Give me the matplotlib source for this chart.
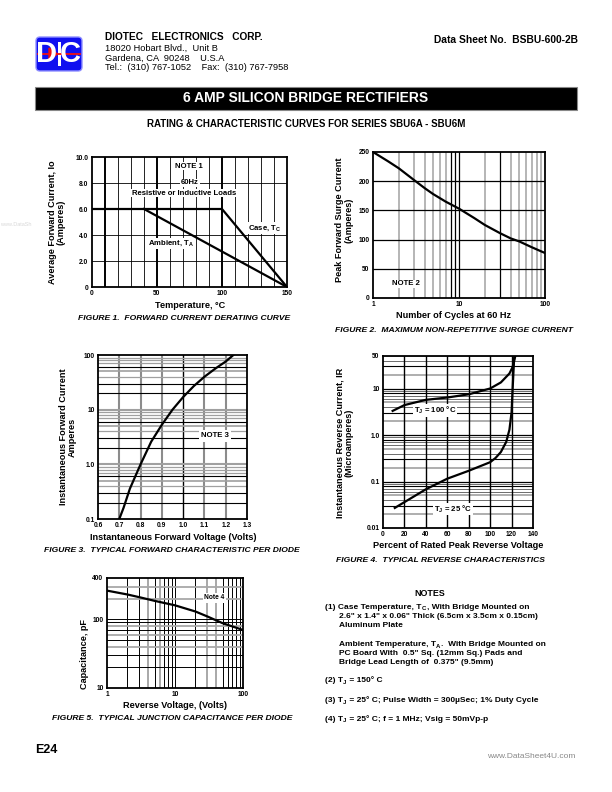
import numpy as np
import matplotlib
matplotlib.use('Agg')
import matplotlib.pyplot as plt
from matplotlib import font_manager as fm
from matplotlib.patches import FancyBboxPatch, Rectangle, Polygon
from matplotlib.ticker import NullLocator

names = {f.name for f in fm.fontManager.ttflist}
NARROW = 'Liberation Sans Narrow' if 'Liberation Sans Narrow' in names else 'Liberation Sans'
REG = 'Liberation Sans'
plt.rcParams['font.family'] = [NARROW, REG, 'DejaVu Sans']
plt.rcParams['mathtext.fontset'] = 'custom'
plt.rcParams['mathtext.rm'] = NARROW + ':bold'
plt.rcParams['mathtext.it'] = NARROW + ':bold'
plt.rcParams['mathtext.bf'] = NARROW + ':bold'

# ---------------- data ----------------
# Figure 1: derating
temp_case = [0, 100, 150]
io_case = [6.0, 6.0, 0.0]
temp_amb = [40, 150]
io_amb = [6.0, 0.0]
# Figure 2: surge current
cycles = [1, 1.5, 2, 3, 4, 5, 7, 10, 15, 20, 30, 40, 50, 70, 100]
surge = [250, 234, 222, 202, 188, 178, 165, 153, 137, 125, 111, 102, 97, 87, 77]
# Figure 3: forward characteristic
vf = [0.70, 0.72, 0.75, 0.80, 0.85, 0.90, 0.95, 1.00, 1.05, 1.10, 1.15, 1.20, 1.236]
i_f = [0.1, 0.16, 0.36, 1.0, 2.6, 5.3, 10, 17, 27, 40, 56, 76, 100]
# Figure 4: reverse characteristic
pct_100 = [9, 20, 40, 60, 80, 100, 110, 118, 121, 123.5]
ir_100 = [3.3, 4.4, 5.7, 6.4, 7.5, 10, 13.5, 21, 29, 50]
pct_25 = [11, 20, 40, 60, 80, 100, 105, 110, 115, 118, 120, 121, 122.5]
ir_25 = [0.027, 0.036, 0.068, 0.115, 0.17, 0.26, 0.32, 0.43, 0.71, 1.3, 3.1, 10, 50]
# Figure 5: junction capacitance
vr = [1, 2, 3, 5, 10, 20, 30, 50, 100]
cap = [262, 230, 210, 186, 160, 130, 110, 88, 70]

W, H = 612, 792
fig = plt.figure(figsize=(6.12, 7.92), dpi=100)
renderer = fig.canvas.get_renderer()


def px_axes(x0, y0, x1, y1):
    return fig.add_axes([x0 / W, 1 - y1 / H, (x1 - x0) / W, (y1 - y0) / H])


def ftext(x, y, s, **kw):
    kw.setdefault('va', 'center')
    return fig.text(x / W, 1 - y / H, s, **kw)


def rich(x, y, parts, fs):
    """Draw bold text pieces on a common baseline; parts = (text, is_subscript)."""
    cx = x
    for s, sub in parts:
        size = fs * 0.72 if sub else fs
        dy = 1.5 if sub else 0.0
        t = fig.text(cx / W, 1 - (y + dy) / H, s, fontsize=size, fontweight='bold',
                     va='baseline', ha='left')
        cx += t.get_window_extent(renderer).width + (0.6 if sub else 0.3)


def style_axes(ax, fs=4.8):
    for s in ax.spines.values():
        s.set_linewidth(1.3)
        s.set_zorder(5)
    ax.tick_params(length=0, labelsize=fs, pad=2.5)
    for lab in ax.get_xticklabels() + ax.get_yticklabels():
        lab.set_fontweight('bold')
        lab.set_family(REG)


LBL = dict(fontsize=6.6, fontweight='bold')
CAP = dict(fontsize=6.1, fontweight='bold', style='italic', ha='center')
BOX = dict(facecolor='white', edgecolor='none', pad=0.6)
IN = dict(fontsize=5.6, fontweight='bold', ha='center', va='center', zorder=4)

# ---------------- header ----------------
lax = px_axes(35, 36, 83, 72)
lax.set_xlim(0, 48)
lax.set_ylim(36, 0)
lax.axis('off')
lax.add_patch(FancyBboxPatch((1, 1), 46, 34, boxstyle='round,pad=0,rounding_size=4',
                             facecolor='#1010f0', edgecolor='#9090ff', lw=1.0))
lax.text(11, 18.5, 'D', color='white', fontsize=21, fontweight='bold', family=REG,
         ha='center', va='center')
lax.add_patch(Rectangle((22.5, 6), 3.2, 24, facecolor='white', edgecolor='none'))
lax.text(35.5, 18.5, 'C', color='white', fontsize=21, fontweight='bold', family=REG,
         ha='center', va='center')
lax.plot([3, 45], [18, 18], color='#ee1111', lw=1.3)
lax.add_patch(Polygon([[14, 12], [14, 24], [22.5, 18]], closed=True,
                      facecolor='#ee1111', edgecolor='#ee1111'))

ftext(105, 37, 'DIOTEC   ELECTRONICS   CORP.', fontsize=7.3, fontweight='bold', family=REG)
ftext(105, 48, '18020 Hobart Blvd.,  Unit B', fontsize=6.7, family=REG)
ftext(105, 58, 'Gardena, CA  90248    U.S.A', fontsize=6.7, family=REG)
ftext(105, 68, 'Tel.:  (310) 767-1052    Fax:  (310) 767-7958', fontsize=6.7, family=REG)
ftext(578, 40, 'Data Sheet No.  BSBU-600-2B', fontsize=7.4, fontweight='bold',
      family=REG, ha='right')

fig.add_artist(Rectangle((35 / W, 1 - 110 / H), 542 / W, 23 / H,
                         transform=fig.transFigure, facecolor='black',
                         edgecolor='#888888', lw=0.8))
ftext(306, 98.5, '6 AMP SILICON BRIDGE RECTIFIERS', fontsize=10.0, fontweight='bold',
      family=REG, color='white', ha='center')
ftext(306, 124, 'RATING & CHARACTERISTIC CURVES FOR SERIES SBU6A - SBU6M', fontsize=7.0,
      fontweight='bold', family=REG, ha='center')

# ---------------- Figure 1 ----------------
ax1 = px_axes(92, 157, 287, 287)
ax1.set_xlim(0, 150)
ax1.set_ylim(0, 10)
for t in range(10, 150, 10):
    ax1.axvline(t, color='black', lw=1.4 if t in (10, 50, 100) else 0.6, zorder=1)
for v in [2, 4, 8]:
    ax1.axhline(v, color='black', lw=0.6, zorder=1)
ax1.plot(temp_case, io_case, color='black', lw=1.6, zorder=3)
ax1.plot(temp_amb, io_amb, color='black', lw=1.6, zorder=3)
ax1.set_xticks([0, 50, 100, 150], ['0', '50', '100', '150'])
ax1.set_yticks([0, 2, 4, 6, 8, 10], ['0', '2.0', '4.0', '6.0', '8.0', '10.0'])
style_axes(ax1)
ax1.text(74.6, 9.3, 'NOTE 1', bbox=BOX, **IN)
ax1.text(75.4, 8.0, '60Hz', bbox=BOX, **IN)
ax1.text(70.8, 7.23, 'Resistive or Inductive Loads', bbox=BOX, **IN)
ax1.text(133, 4.54, r'Case, T$_\mathrm{C}$', bbox=BOX, **IN)
ax1.text(60.8, 3.38, r'Ambient, T$_\mathrm{A}$', bbox=BOX, **IN)
ftext(57, 222, 'Average Forward Current, Io\n(Amperes)', rotation=90, ha='center',
      linespacing=1.0, **LBL)
ftext(190, 305, 'Temperature, °C', ha='center', **LBL)
ftext(184, 318, 'FIGURE 1.  FORWARD CURRENT DERATING CURVE', **CAP)

# ---------------- Figure 2 ----------------
ax2 = px_axes(373, 152, 545, 298)
ax2.set_xscale('log')
ax2.set_xlim(1, 100)
ax2.set_ylim(0, 250)
for c in [2, 3, 4, 5, 6, 7, 20, 40, 50, 60, 70, 80, 90]:
    ax2.axvline(c, color='#b0b0b0', lw=1.3, zorder=1)
for c in [8, 9, 10, 30]:
    ax2.axvline(c, color='black', lw=0.9, zorder=1)
for v in [50, 100, 150, 200]:
    ax2.axhline(v, color='black', lw=0.9, zorder=1)
ax2.plot(cycles, surge, color='black', lw=1.6, zorder=3)
ax2.set_xticks([1, 10, 100], ['1', '10', '100'])
ax2.xaxis.set_minor_locator(NullLocator())
ax2.set_yticks([0, 50, 100, 150, 200, 250], ['0', '50', '100', '150', '200', '250'])
style_axes(ax2)
ax2.text(2.4, 24, 'NOTE 2', bbox=BOX, **IN)
ftext(344, 220, 'Peak Forward Surge Current\n(Amperes)', rotation=90, ha='center',
      linespacing=1.0, **LBL)
ftext(453, 316, 'Number of Cycles at 60 Hz', ha='center', **LBL)
ftext(454, 330, 'FIGURE 2.  MAXIMUM NON-REPETITIVE SURGE CURRENT', **CAP)

# ---------------- Figure 3 ----------------
ax3 = px_axes(98, 355, 247, 519)
ax3.set_yscale('log')
ax3.set_xlim(0.6, 1.3)
ax3.set_ylim(0.1, 100)
for v in [0.7, 0.8, 0.9, 1.1, 1.2]:
    ax3.axvline(v, color='#8c8c8c', lw=1.5, zorder=1)
ax3.axvline(1.0, color='black', lw=1.0, zorder=1)
for d in [0.1, 1.0, 10.0]:
    for k in range(2, 10):
        if k in (2, 3, 6):
            ax3.axhline(k * d, color='black', lw=0.8, zorder=1)
        else:
            ax3.axhline(k * d, color='#a0a0a0', lw=1.2 if k == 5 else 0.9, zorder=1)
    if d > 0.1:
        ax3.axhline(d, color='#a0a0a0', lw=1.5, zorder=1)
ax3.plot(vf, i_f, color='black', lw=1.6, zorder=3)
ax3.set_xticks([0.6, 0.7, 0.8, 0.9, 1.0, 1.1, 1.2, 1.3],
               ['0.6', '0.7', '0.8', '0.9', '1.0', '1.1', '1.2', '1.3'])
ax3.set_yticks([0.1, 1, 10, 100], ['0.1', '1.0', '10', '100'])
ax3.yaxis.set_minor_locator(NullLocator())
style_axes(ax3)
ax3.text(1.15, 3.3, 'NOTE 3', bbox=dict(facecolor='white', edgecolor='none', pad=1.5), **IN)
ftext(68, 437, 'Instantaneous Forward Current\nAmperes', rotation=90, ha='center',
      linespacing=1.0, **LBL)
ftext(173, 538, 'Instantaneous Forward Voltage (Volts)', ha='center', **LBL)
ftext(172, 551, 'FIGURE 3.  TYPICAL FORWARD CHARACTERISTIC PER DIODE', **CAP)

# ---------------- Figure 4 ----------------
ax4 = px_axes(383, 356, 533, 528)
ax4.set_yscale('log')
ax4.set_xlim(0, 140)
ax4.set_ylim(0.01, 50)
for d in [0.01, 0.1, 1.0, 10.0]:
    for k in range(2, 10):
        if k * d > 50:
            continue
        if k in (2, 5):
            ax4.axhline(k * d, color='#a8a8a8', lw=1.3, zorder=1)
        elif k in (3, 8):
            ax4.axhline(k * d, color='black', lw=0.8, zorder=1)
        else:
            ax4.axhline(k * d, color='#555555', lw=0.6, zorder=1)
    if d > 0.01:
        ax4.axhline(d, color='black', lw=0.9, zorder=1)
for v in range(20, 140, 20):
    ax4.axvline(v, color='black', lw=1.0, zorder=1)
ax4.plot(pct_100, ir_100, color='black', lw=1.6, zorder=3)
ax4.plot(pct_25, ir_25, color='black', lw=1.6, zorder=3)
ax4.set_xticks(range(0, 141, 20), [str(v) for v in range(0, 141, 20)])
ax4.set_yticks([0.01, 0.1, 1, 10, 50], ['0.01', '0.1', '1.0', '10', '50'])
ax4.yaxis.set_minor_locator(NullLocator())
style_axes(ax4)
ax4.text(48.5, 3.4, r'T$_\mathrm{J}$ = 100 °C', bbox=BOX, **IN)
ax4.text(65, 0.0256, r'T$_\mathrm{J}$ = 25 °C', bbox=BOX, **IN)
ftext(344, 443, 'Instantaneous Reverse Current, IR\n(Microamperes)', rotation=90,
      ha='center', linespacing=1.0, **LBL)
ftext(458, 546, 'Percent of Rated Peak Reverse Voltage', ha='center', **LBL)
ftext(440, 561, 'FIGURE 4.  TYPICAL REVERSE CHARACTERISTICS', **CAP)

# ---------------- Figure 5 ----------------
ax5 = px_axes(107, 578, 243, 688)
ax5.set_xscale('log')
ax5.set_yscale('log')
ax5.set_xlim(1, 100)
ax5.set_ylim(10, 400)
for d in [1, 10]:
    for k in range(2, 11):
        if k in (4, 6 if d == 1 else 3):
            ax5.axvline(k * d, color='#a8a8a8', lw=1.4, zorder=1)
        else:
            ax5.axvline(k * d, color='black', lw=0.7, zorder=1)
for v in [20, 30, 50, 70, 90, 100]:
    ax5.axhline(v, color='black', lw=0.7, zorder=1)
for v in [40, 60, 80, 200, 300]:
    ax5.axhline(v, color='#a8a8a8', lw=1.3, zorder=1)
ax5.plot(vr, cap, color='black', lw=1.6, zorder=3)
ax5.set_xticks([1, 10, 100], ['1', '10', '100'])
ax5.set_yticks([10, 100, 400], ['10', '100', '400'])
ax5.xaxis.set_minor_locator(NullLocator())
ax5.yaxis.set_minor_locator(NullLocator())
style_axes(ax5)
ax5.text(38, 205, 'Note 4', fontsize=4.8, fontweight='bold', family=REG, ha='center',
         va='center', bbox=dict(facecolor='white', edgecolor='none', pad=1.2), zorder=4)
ftext(84, 654, 'Capacitance, pF', rotation=90, ha='center', **LBL)
ftext(175, 705, 'Reverse Voltage, (Volts)', ha='center', **LBL)
ftext(172, 718, 'FIGURE 5.  TYPICAL JUNCTION CAPACITANCE PER DIODE', **CAP)

# ---------------- notes ----------------
NFS = 6.0
ftext(430, 594, 'NOTES', ha='center', fontsize=6.4, fontweight='bold')
rich(325, 609, [('(1) Case Temperature, T', False), ('C', True),
                (', With Bridge Mounted on', False)], NFS)
rich(339, 618, [('2.6" x 1.4" x 0.06" Thick (6.5cm x 3.5cm x 0.15cm)', False)], NFS)
rich(339, 627, [('Aluminum Plate', False)], NFS)
rich(339, 646, [('Ambient Temperature, T', False), ('A', True),
                ('.  With Bridge Mounted on', False)], NFS)
rich(339, 655, [('PC Board With  0.5" Sq. (12mm Sq.) Pads and', False)], NFS)
rich(339, 664, [('Bridge Lead Length of  0.375" (9.5mm)', False)], NFS)
rich(325, 682, [('(2) T', False), ('J', True), (' = 150° C', False)], NFS)
rich(325, 702, [('(3) T', False), ('J', True),
                (' = 25° C; Pulse Width = 300µSec; 1% Duty Cycle', False)], NFS)
rich(325, 721, [('(4) T', False), ('J', True), (' = 25° C; f = 1 MHz; Vsig = 50mVp-p', False)], NFS)

# ---------------- footer ----------------
ftext(35, 750, 'E24', fontsize=9, fontweight='bold', family=REG)
ftext(575, 756, 'www.DataSheet4U.com', fontsize=6, color='#888888', family=REG, ha='right')
ftext(0, 224, 'www.DataSh', fontsize=4, color='#d8d8d8', family=REG)

fig.savefig('out.png', dpi=100)
